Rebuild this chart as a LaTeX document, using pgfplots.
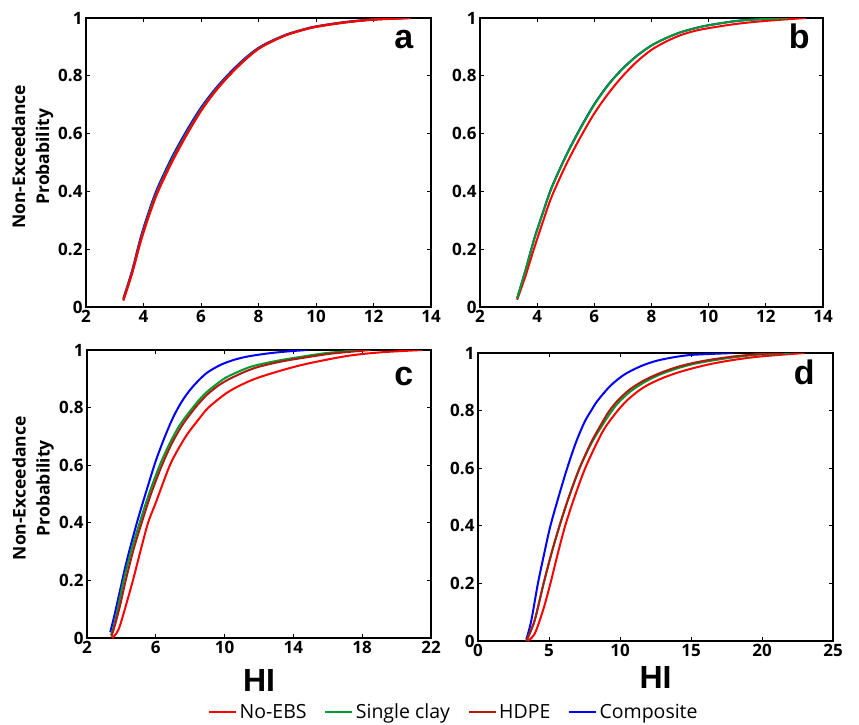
\documentclass[border=0pt]{standalone}
\usepackage{fontspec}
\setmainfont{Open Sans}
\newfontfamily\osans{Open Sans}
\newfontfamily\tickfam{Open Sans}[Scale=1.7]
\newfontfamily\ylabfam{Open Sans}[Scale=1.75]
\newfontfamily\arialf{Liberation Sans}
\usepackage{pgfplots}
\pgfplotsset{compat=1.18}
\newcommand{\tickfont}{\normalsize\tickfam\bfseries}
\newcommand{\ylabfont}{\normalsize\ylabfam\bfseries\baselineskip=24pt}
\newcommand{\hifont}{\arialf\bfseries\fontsize{32}{34}\selectfont}
\newcommand{\legfont}{\osans\fontsize{19.5}{22}\selectfont}
\newcommand{\letfont}{\arialf\bfseries\fontsize{34}{36}\selectfont}
\definecolor{cred}{RGB}{255,0,0}
\definecolor{cgreen}{RGB}{0,155,45}
\definecolor{chdpe}{RGB}{175,25,15}
\definecolor{cblue}{RGB}{0,0,255}
\tikzset{letter/.style={anchor=base east, font=\letfont}}
\pgfplotsset{
  panel/.style={
    scale only axis,
    ymin=0, ymax=1,
    ytick={0,0.2,0.4,0.6,0.8,1},
    yticklabels={0,0.2,0.4,0.6,0.8,1},
    tick align=inside,
    major tick length=4pt,
    axis line style={line width=1.3pt},
    tick style={line width=1pt, black},
    /pgf/number format/assume math mode=true,
    every axis plot/.append style={line width=2pt, smooth, tension=0.5},
  },
}
\begin{document}
\begin{tikzpicture}
\useasboundingbox (0pt,0pt) rectangle (859pt,-725pt);
% ---------------- panel a
\begin{axis}[panel, at={(86pt,-307pt)}, anchor=south west, width=345pt, height=289pt,
  xmin=2, xmax=14, xtick={2,4,...,14},
  tick label style={font=\tickfont},
  ylabel={Non-Exceedance\\Probability},
  ylabel style={align=center, font=\ylabfont, at={(axis description cs:-0.155,0.52)}, anchor=center}]
\addplot[cblue] coordinates {(3.3,0.03) (3.6,0.125) (3.9,0.24) (4.2,0.335) (4.5,0.415) (5.0,0.52) (5.5,0.61) (6.0,0.69) (6.5,0.755) (7.0,0.81) (7.5,0.858) (8.0,0.897) (8.5,0.923) (9.0,0.944) (9.5,0.959) (10.0,0.971) (11.0,0.986) (12.0,0.995) (13.2,1.0)};
\addplot[cgreen] coordinates {(3.3,0.027) (3.6,0.12) (3.9,0.233) (4.2,0.328) (4.5,0.407) (5.0,0.512) (5.5,0.602) (6.0,0.684) (6.5,0.75) (7.0,0.806) (7.5,0.855) (8.0,0.895) (8.5,0.922) (9.0,0.943) (9.5,0.958) (10.0,0.97) (11.0,0.985) (12.0,0.995) (13.2,1.0)};
\addplot[chdpe] coordinates {(3.3,0.025) (3.6,0.118) (3.9,0.23) (4.2,0.322) (4.5,0.402) (5.0,0.507) (5.5,0.598) (6.0,0.68) (6.5,0.748) (7.0,0.804) (7.5,0.853) (8.0,0.894) (8.5,0.921) (9.0,0.942) (9.5,0.958) (10.0,0.97) (11.0,0.985) (12.0,0.995) (13.3,1.0)};
\addplot[cred] coordinates {(3.3,0.022) (3.6,0.115) (3.9,0.225) (4.2,0.318) (4.5,0.398) (5.0,0.503) (5.5,0.595) (6.0,0.678) (6.5,0.746) (7.0,0.803) (7.5,0.852) (8.0,0.893) (8.5,0.92) (9.0,0.942) (9.5,0.957) (10.0,0.969) (11.0,0.984) (12.0,0.994) (13.3,1.0)};
\node[letter] at (rel axis cs:0.959,0.893) {a};
\end{axis}
% ---------------- panel b
\begin{axis}[panel, at={(480pt,-307pt)}, anchor=south west, width=343pt, height=289pt,
  xmin=2, xmax=14, xtick={2,4,...,14},
  tick label style={font=\tickfont}]
\addplot[cblue] coordinates {(3.3,0.03) (3.6,0.13) (3.9,0.237) (4.2,0.327) (4.5,0.412) (5.0,0.522) (5.5,0.617) (6.0,0.702) (6.5,0.771) (7.0,0.826) (7.5,0.87) (8.0,0.905) (8.5,0.93) (9.0,0.95) (9.5,0.964) (10.0,0.975) (11.0,0.99) (12.0,0.997) (12.8,1.0)};
\addplot[cred] coordinates {(3.3,0.025) (3.6,0.11) (3.9,0.205) (4.2,0.295) (4.5,0.38) (5.0,0.49) (5.5,0.585) (6.0,0.67) (6.5,0.74) (7.0,0.80) (7.5,0.85) (8.0,0.89) (8.5,0.918) (9.0,0.94) (9.5,0.955) (10.0,0.965) (11.0,0.98) (12.0,0.99) (13.4,1.0)};
\addplot[cgreen] coordinates {(3.3,0.03) (3.6,0.13) (3.9,0.235) (4.2,0.325) (4.5,0.41) (5.0,0.52) (5.5,0.615) (6.0,0.70) (6.5,0.77) (7.0,0.825) (7.5,0.87) (8.0,0.905) (8.5,0.93) (9.0,0.95) (9.5,0.964) (10.0,0.975) (11.0,0.99) (12.0,0.997) (12.8,1.0)};
\node[letter] at (rel axis cs:0.971,0.893) {b};
\end{axis}
% ---------------- panel c
\begin{axis}[panel, at={(87pt,-638pt)}, anchor=south west, width=344pt, height=288pt,
  xmin=2, xmax=22, xtick={2,6,...,22},
  tick label style={font=\tickfont},
  ylabel={Non-Exceedance\\Probability},
  ylabel style={align=center, font=\ylabfont, at={(axis description cs:-0.157,0.52)}, anchor=center},
  xlabel={HI}, xlabel style={font=\hifont, at={(axis description cs:0.5,-0.149)}, anchor=center},
  legend columns=4,
  legend image code/.code={\draw[#1] (0pt,0pt) -- (27pt,0pt);},
  legend style={at={(axis description cs:1.067,-0.257)}, anchor=center, draw=none, fill=none,
    font=\legfont, inner sep=0pt,
    nodes={inner sep=2.5pt},
    /tikz/every even column/.append style={column sep=15pt}},
  ]
\addlegendimage{cred, line width=2.2pt}\addlegendentry{No-EBS}
\addlegendimage{cgreen, line width=2.2pt}\addlegendentry{Single clay}
\addlegendimage{chdpe, line width=2.2pt}\addlegendentry{HDPE}
\addlegendimage{cblue, line width=2.2pt}\addlegendentry{Composite}
\addplot[cblue, forget plot] coordinates {(3.35,0.02) (3.6,0.08) (3.9,0.16) (4.3,0.265) (4.9,0.40) (5.5,0.52) (6.0,0.615) (6.5,0.695) (7.0,0.765) (7.5,0.82) (8.0,0.862) (8.5,0.895) (9.0,0.922) (9.75,0.948) (10.5,0.965) (11.3,0.977) (12.5,0.988) (13.65,0.995) (14.8,1.0)};
\addplot[cred, forget plot] coordinates {(3.46,0.0) (3.7,0.015) (3.9,0.04) (4.2,0.10) (4.67,0.2) (5.1,0.3) (5.55,0.4) (6.0,0.47) (6.4,0.535) (6.82,0.6) (7.2,0.645) (7.8,0.705) (8.5,0.76) (9.06,0.8) (10.1,0.85) (11.0,0.88) (12.0,0.905) (13.65,0.935) (15.0,0.955) (17.2,0.98) (19.1,0.992) (21.5,1.0)};
\addplot[cgreen, forget plot] coordinates {(3.40,0.01) (3.6,0.05) (3.85,0.12) (4.13,0.2) (4.6,0.31) (5.06,0.4) (5.6,0.5) (6.23,0.6) (6.8,0.675) (7.4,0.74) (8.15,0.8) (8.8,0.845) (9.5,0.88) (10.1,0.905) (11.0,0.93) (11.7,0.945) (13.0,0.962) (14.5,0.977) (16.0,0.99) (18.0,1.0)};
\addplot[chdpe, forget plot] coordinates {(3.42,0.005) (3.65,0.05) (3.95,0.12) (4.25,0.2) (4.72,0.31) (5.18,0.4) (5.72,0.5) (6.36,0.6) (6.93,0.675) (7.55,0.74) (8.3,0.8) (8.95,0.843) (9.65,0.877) (10.3,0.9) (11.2,0.925) (12.0,0.942) (13.3,0.96) (14.8,0.975) (16.3,0.988) (18.5,1.0)};
\node[letter] at (rel axis cs:0.959,0.878) {c};
\end{axis}
% ---------------- panel d
\begin{axis}[panel, at={(478pt,-641pt)}, anchor=south west, width=355pt, height=288pt,
  xmin=0, xmax=25, xtick={0,5,...,25},
  tick label style={font=\tickfont},
  xlabel={HI}, xlabel style={font=\hifont, at={(axis description cs:0.5,-0.128)}, anchor=center}]
\addplot[cblue] coordinates {(3.40,0.005) (3.75,0.07) (4.22,0.2) (4.69,0.31) (5.1,0.4) (5.7,0.505) (6.28,0.6) (6.9,0.69) (7.5,0.76) (7.97,0.8) (8.4,0.833) (9.3,0.885) (10.3,0.925) (11.5,0.955) (12.65,0.974) (14.0,0.987) (15.2,0.994) (18.0,1.0)};
\addplot[cred] coordinates {(3.5,0.0) (4.0,0.026) (4.6,0.11) (5.1,0.2) (5.6,0.3) (6.14,0.4) (6.8,0.5) (7.55,0.6) (8.44,0.695) (9.0,0.745) (9.84,0.8) (10.55,0.838) (11.4,0.872) (12.19,0.895) (13.1,0.915) (14.06,0.932) (15.2,0.948) (16.4,0.962) (18.0,0.976) (19.9,0.988) (23.0,1.0)};
\addplot[cgreen] coordinates {(3.4,0.0) (3.98,0.07) (4.62,0.2) (5.15,0.3) (5.74,0.4) (6.4,0.5) (7.15,0.6) (7.97,0.685) (8.7,0.745) (9.3,0.79) (9.84,0.825) (10.7,0.865) (11.7,0.898) (12.8,0.925) (14.06,0.947) (15.2,0.962) (16.4,0.973) (18.0,0.985) (19.9,0.995) (22.0,1.0)};
\addplot[chdpe] coordinates {(3.4,0.0) (3.98,0.07) (4.62,0.2) (5.15,0.3) (5.74,0.4) (6.4,0.5) (7.15,0.6) (7.97,0.69) (8.7,0.755) (9.26,0.8) (9.84,0.835) (10.7,0.874) (11.7,0.905) (12.8,0.93) (14.06,0.952) (15.2,0.966) (16.4,0.977) (18.0,0.988) (19.9,0.997) (21.5,1.0)};
\node[letter] at (rel axis cs:0.958,0.889) {d};
\end{axis}
\end{tikzpicture}
\end{document}
